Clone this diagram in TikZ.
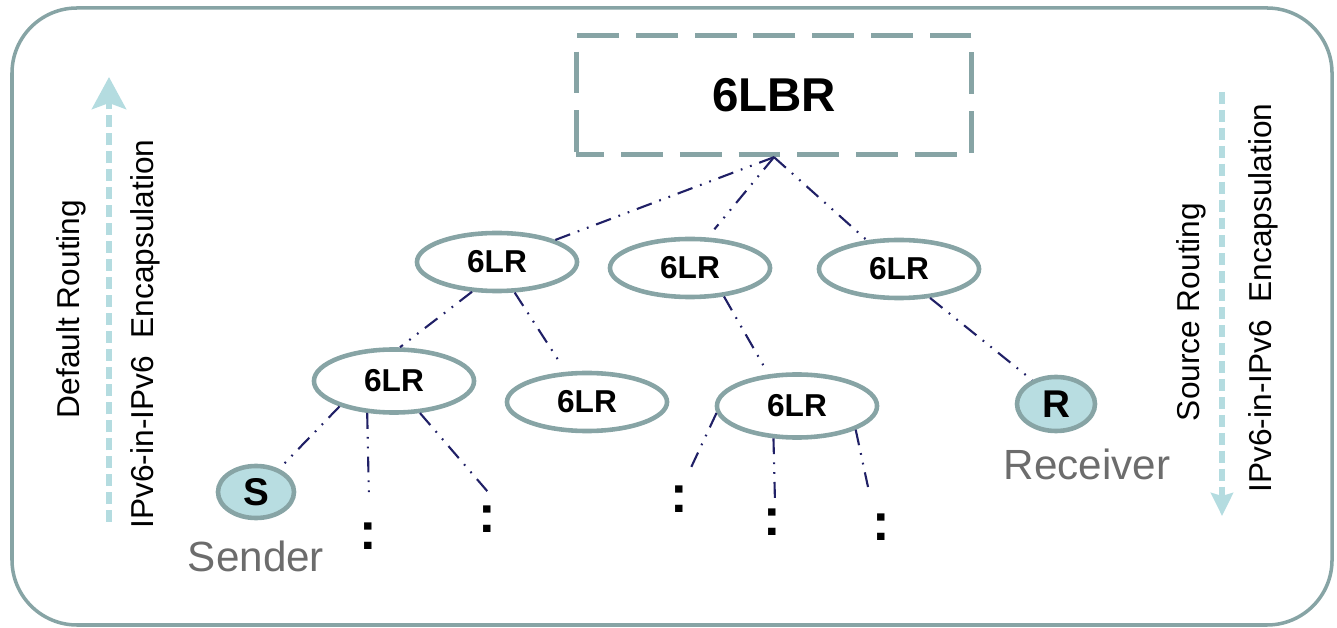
\documentclass[tikz,border=0pt]{standalone}
\usepackage{fontspec}
\setmainfont{Liberation Sans}
\usepackage{tikz}
\usetikzlibrary{shapes.geometric}
\usetikzlibrary{positioning, arrows.meta}
\definecolor{edgegray}{RGB}{135,164,165}
\definecolor{linknavy}{RGB}{32,32,102}
\definecolor{hostfill}{RGB}{184,221,225}
\definecolor{flowblue}{RGB}{180,220,224}
\definecolor{labelgray}{RGB}{108,108,108}

\begin{document}
\begin{tikzpicture}[x=0.01cm, y=-0.01cm,
  router/.style={ellipse, draw=edgegray, line width=1.3pt, minimum width=1.6cm, minimum height=0.58cm, inner sep=0pt, font=\fontsize{9}{10}\selectfont\bfseries},
  host/.style={ellipse, draw=edgegray, fill=hostfill, line width=1.3pt, minimum width=0.76cm, minimum height=0.52cm, inner sep=0pt, font=\fontsize{11}{12}\selectfont\bfseries},
  hostname/.style={text=labelgray, inner sep=0pt, font=\fontsize{12}{14}\selectfont},
  link/.style={draw=linknavy, line width=0.6pt, dash pattern=on 4.5pt off 2.3pt on 0.5pt off 2.3pt on 0.5pt off 2.3pt},
  more/.style={anchor=base, inner sep=0pt, font=\fontsize{15}{16}\selectfont\bfseries},
  flow/.style={draw=flowblue, line width=1.7pt, dash pattern=on 3.4pt off 1.7pt},
  side/.style={rotate=90, inner sep=0pt, font=\fontsize{9}{10}\selectfont}]

\useasboundingbox (0,0) rectangle (1337,628);

% Frame
\draw[edgegray, line width=1pt, rounded corners=0.65cm] (12,8) rectangle (1332,625);

% Border router
\node[draw=edgegray, line width=1.5pt, dash pattern=on 11.9pt off 4.8pt, dash phase=4pt, minimum width=3.95cm, minimum height=1.19cm, font=\fontsize{13.5}{15}\selectfont\bfseries] (lbr) at (774,95) {6LBR};

% Routers
\node[router] (lrA) at (497,262) {6LR};
\node[router] (lrB) at (690,268) {6LR};
\node[router] (lrC) at (899,269) {6LR};
\node[router, minimum height=0.63cm] (lrD) at (394,381) {6LR};
\node[router] (lrE) at (587,402) {6LR};
\node[router, minimum height=0.63cm] (lrF) at (797,406) {6LR};

% Hosts
\node[host] (sender) at (256,492) {S};
\node[host, minimum width=0.78cm, minimum height=0.54cm] (receiver) at (1056,404) {R};
\node[hostname, below=0.2cm of sender] (sendername) {Sender};
\node[hostname, below=0.15cm of receiver, xshift=0.31cm] (receivername) {Receiver};

% Further nodes
\node[more] (moreD1) at (368,549) {:};
\node[more] (moreD2) at (487,532) {:};
\node[more] (moreF1) at (679,512) {:};
\node[more] (moreF2) at (772,535) {:};
\node[more] (moreF3) at (881,541) {:};
\coordinate (endD1) at (369,500);
\coordinate (endD2) at (488,492);
\coordinate (endF1) at (688,474);
\coordinate (endF2) at (775,503);
\coordinate (endF3) at (868,487);

% Links
\draw[link] (lbr.south) -- (lrA);
\draw[link, shorten >=3pt] (lbr.south) -- (lrB.60);
\draw[link] (lbr.south) -- (lrC);
\draw[link] (lrA.-130) -- (lrD.80);
\draw[link, shorten >=3pt] (lrA.-60) -- (lrE.125);
\draw[link, shorten >=3pt] (lrB.-40) -- (lrF.132);
\draw[link] (lrC.-43) -- (receiver.135);
\draw[link] (lrD.-155) -- (sender.45);
\draw[link] (lrD.-130) -- (endD1);
\draw[link] (lrD.-51) -- (endD2);
\draw[link] (lrF.-175) -- (endF1);
\draw[link] (lrF.-126) -- (endF2);
\draw[link] (lrF.-22) -- (endF3);

% Routing directions
\coordinate (upfoot) at (109,522);
\coordinate (uptip) at (109,77);
\coordinate (downfoot) at (1222,92);
\coordinate (downtip) at (1222,516);
\draw[flow, -{Stealth[length=0.32cm, width=0.34cm, inset=0.06cm]}] (upfoot) -- (uptip);
\draw[flow, -{Stealth[length=0.23cm, width=0.22cm, inset=0.03cm]}] (downfoot) -- (downtip);
\node[side] (defroute) at (71,309) {Default Routing};
\node[side] (encapup) at (145,334) {IPv6-in-IPv6\ \ Encapsulation};
\node[side] (srcroute) at (1191,312) {Source Routing};
\node[side] (encapdown) at (1263,298) {IPv6-in-IPv6\ \ Encapsulation};

\end{tikzpicture}
\end{document}
